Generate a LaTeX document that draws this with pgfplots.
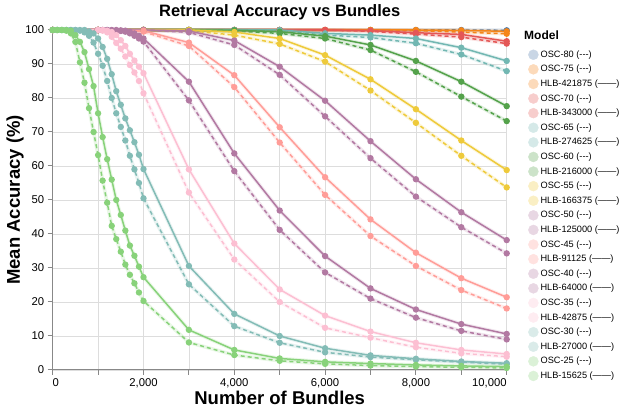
\documentclass[border=0pt]{standalone}
\usepackage{fontspec}
\setmainfont{Liberation Sans}
\usepackage{pgfplots}
\pgfplotsset{compat=1.18}
\definecolor{c80}{HTML}{4C78A8}
\definecolor{c75}{HTML}{F58518}
\definecolor{c70}{HTML}{E45756}
\definecolor{c65}{HTML}{72B7B2}
\definecolor{c60}{HTML}{54A24B}
\definecolor{c55}{HTML}{EECA3B}
\definecolor{c50}{HTML}{B279A2}
\definecolor{c45}{HTML}{FF9D98}
\definecolor{c40}{HTML}{B279A2}
\definecolor{c35}{HTML}{FCBFD2}
\definecolor{c30}{HTML}{83BCB6}
\definecolor{c25}{HTML}{88D27A}
\definecolor{axisgray}{HTML}{888888}
\definecolor{gridgray}{HTML}{DDDDDD}
\pgfplotsset{
  ser/.style={color=#1, line width=1.5pt, mark=*, mark size=2.4pt,
    mark options={solid, draw=none, fill=#1},
    preaction={draw=#1, line width=3.6pt, draw opacity=0.18, solid}, forget plot},
  osc/.style={ser=#1, dash pattern=on 4pt off 3pt},
  hlb/.style={ser=#1, solid},
  lc/.style={legend image code/.code={\fill[#1!30!white] (5pt,0pt) circle (5pt);}},
}
\begin{document}
\begin{tikzpicture}
\begin{axis}[
  at={(0pt,0pt)}, anchor=south west,
  width=454pt, height=340pt, scale only axis,
  xmin=0, xmax=10000, ymin=0, ymax=100,
  axis x line*=bottom, axis y line*=left,
  axis line style={-, draw=axisgray, line width=1pt},
  xtick={0,1000,...,10000},
  scaled x ticks=false,
  xticklabels={\rlap{0},,{2,000},,{4,000},,{6,000},,{8,000},,\llap{10,000}},
  ytick={0,10,...,100},
  grid=major, major grid style={draw=gridgray, line width=0.8pt},
  tick style={draw=axisgray, line width=1pt},
  tick align=outside, major tick length=5pt,
  ticklabel style={font=\fontsize{11.3}{13}\selectfont},
  /pgf/number format/assume math mode=true,
  clip=false,
  title={Retrieval Accuracy vs Bundles},
  title style={at={(axis description cs:0.5,1.0353)}, anchor=center, font=\fontsize{16.5}{19}\selectfont\bfseries},
  xlabel={Number of Bundles},
  xlabel style={at={(axis description cs:0.5,-0.0824)}, anchor=center, yshift=0pt, font=\fontsize{18.5}{21}\selectfont\bfseries},
  ylabel={Mean Accuracy (\%)},
  ylabel style={at={(axis description cs:-0.083,0.5)}, anchor=center, font=\fontsize{18.5}{21}\selectfont\bfseries},
  legend style={at={(axis description cs:1.0403,0.949)}, anchor=north west, draw=none, fill=none,
    font=\fontsize{9.2}{11}\selectfont, row sep=4.2pt,
    nodes={inner ysep=0pt, inner xsep=2pt, text height=7pt, text depth=2pt}},
  legend cell align=left,
]
% 80
\addplot[osc=c80] coordinates {(0,100)(1000,100)(2000,100)(3000,100)(4000,100)(5000,100)(6000,100)(7000,100)(8000,100)(9000,100)(10000,99.9)};
% 75
\addplot[osc=c75] coordinates {(0,100)(1000,100)(2000,100)(3000,100)(4000,100)(5000,100)(6000,100)(7000,100)(8000,99.8)(9000,99.4)(10000,98.9)};
\addplot[hlb=c75] coordinates {(0,100)(1000,100)(2000,100)(3000,100)(4000,100)(5000,100)(6000,100)(7000,100)(8000,100)(9000,99.9)(10000,99.6)};
% 70
\addplot[osc=c70] coordinates {(0,100)(1000,100)(2000,100)(3000,100)(4000,100)(5000,100)(6000,100)(7000,99.6)(8000,98.8)(9000,97.9)(10000,96.0)};
\addplot[hlb=c70] coordinates {(0,100)(1000,100)(2000,100)(3000,100)(4000,100)(5000,100)(6000,100)(7000,99.8)(8000,99.2)(9000,98.7)(10000,96.7)};
% 65
\addplot[osc=c65] coordinates {(0,100)(1000,100)(2000,100)(3000,100)(4000,100)(5000,99.7)(6000,98.5)(7000,97.8)(8000,96.1)(9000,92.8)(10000,87.9)};
\addplot[hlb=c65] coordinates {(0,100)(1000,100)(2000,100)(3000,100)(4000,100)(5000,100)(6000,99.0)(7000,98.5)(8000,97.5)(9000,94.8)(10000,90.9)};
% 60
\addplot[osc=c60] coordinates {(0,100)(1000,100)(2000,100)(3000,100)(4000,99.7)(5000,99.0)(6000,97.5)(7000,94.1)(8000,87.7)(9000,80.4)(10000,73.2)};
\addplot[hlb=c60] coordinates {(0,100)(1000,100)(2000,100)(3000,100)(4000,99.9)(5000,99.5)(6000,98.2)(7000,95.6)(8000,90.9)(9000,84.8)(10000,77.6)};
% 55
\addplot[osc=c55] coordinates {(0,100)(1000,100)(2000,100)(3000,99.8)(4000,98.5)(5000,95.9)(6000,90.7)(7000,82.2)(8000,72.7)(9000,63.0)(10000,53.7)};
\addplot[hlb=c55] coordinates {(0,100)(1000,100)(2000,100)(3000,100)(4000,99.4)(5000,97.5)(6000,92.6)(7000,85.5)(8000,76.7)(9000,67.5)(10000,58.8)};
% 50
\addplot[osc=c50] coordinates {(0,100)(1000,100)(2000,100)(3000,99.3)(4000,95.6)(5000,86.8)(6000,74.6)(7000,62.3)(8000,51.0)(9000,42.0)(10000,34.3)};
\addplot[hlb=c50] coordinates {(0,100)(1000,100)(2000,100)(3000,99.7)(4000,96.9)(5000,89.2)(6000,79.2)(7000,67.3)(8000,56.1)(9000,46.4)(10000,38.2)};
% 45
\addplot[osc=c45] coordinates {(0,100)(1000,100)(2000,99.5)(3000,95.3)(4000,83.2)(5000,66.9)(6000,51.5)(7000,39.4)(8000,30.6)(9000,23.5)(10000,18.1)};
\addplot[hlb=c45] coordinates {(0,100)(1000,100)(2000,99.8)(3000,96.3)(4000,86.7)(5000,71.4)(6000,56.7)(7000,44.3)(8000,34.5)(9000,27.0)(10000,21.4)};
% 40
\addplot[osc=c40] coordinates {(0,100)(1000,100)(1100,100)(1200,100)(1300,99.9)(1400,99.8)(1500,99.7)(1600,99.5)(1700,99.0)(1800,98.3)(1900,97.5)(2000,96.6)(3000,79.3)(4000,58.5)(5000,41.2)(6000,28.7)(7000,21.0)(8000,15.4)(9000,11.5)(10000,9.0)};
\addplot[hlb=c40] coordinates {(0,100)(1000,100)(1100,100)(1200,100)(1300,100)(1400,100)(1500,99.9)(1600,99.8)(1700,99.5)(1800,99.0)(1900,98.3)(2000,97.5)(3000,84.8)(4000,63.7)(5000,46.9)(6000,33.5)(7000,24.0)(8000,17.8)(9000,13.5)(10000,10.6)};
% 35
\addplot[osc=c35] coordinates {(0,100)(1000,100)(1100,99.8)(1200,99.3)(1300,98.0)(1400,96.2)(1500,94.5)(1600,92.2)(1700,89.7)(1800,87.5)(1900,85.0)(2000,81.4)(3000,52.2)(4000,32.5)(5000,20.0)(6000,12.4)(7000,9.5)(8000,6.7)(9000,4.9)(10000,3.9)};
\addplot[hlb=c35] coordinates {(0,100)(1000,100)(1100,100)(1200,99.8)(1300,99.4)(1400,98.5)(1500,97.0)(1600,95.3)(1700,93.0)(1800,91.0)(1900,89.2)(2000,87.3)(3000,59.0)(4000,37.2)(5000,23.7)(6000,16.0)(7000,11.3)(8000,8.0)(9000,5.9)(10000,4.7)};
% 30
\addplot[osc=c30] coordinates {(0,100)(100,100)(200,100)(300,100)(400,100)(500,100)(600,99.8)(700,99.3)(800,98.3)(900,96.3)(1000,93.0)(1100,89.5)(1200,85.0)(1300,80.0)(1400,75.5)(1500,71.5)(1600,67.5)(1700,63.0)(1800,59.0)(1900,55.0)(2000,50.5)(3000,25.2)(4000,12.9)(5000,8.0)(6000,5.2)(7000,3.8)(8000,3.0)(9000,2.3)(10000,1.7)};
\addplot[hlb=c30] coordinates {(0,100)(100,100)(200,100)(300,100)(400,100)(500,100)(600,100)(700,100)(800,99.6)(900,99.0)(1000,97.5)(1100,95.0)(1200,91.5)(1300,87.0)(1400,82.0)(1500,78.0)(1600,74.0)(1700,70.5)(1800,67.0)(1900,63.3)(2000,59.1)(3000,30.6)(4000,16.5)(5000,10.0)(6000,6.4)(7000,4.3)(8000,3.3)(9000,2.5)(10000,2.0)};
% 25
\addplot[osc=c25] coordinates {(0,100)(100,100)(200,100)(300,99.8)(400,99.0)(500,96.5)(600,90.5)(700,84.5)(800,77.0)(900,70.0)(1000,63.2)(1100,55.7)(1200,49.2)(1300,42.4)(1400,38.5)(1500,34.8)(1600,31.0)(1700,28.0)(1800,25.5)(1900,22.8)(2000,20.3)(3000,8.1)(4000,4.4)(5000,2.7)(6000,1.8)(7000,1.3)(8000,1.0)(9000,0.8)(10000,0.6)};
\addplot[hlb=c25] coordinates {(0,100)(100,100)(200,100)(300,100)(400,99.8)(500,98.5)(600,96.5)(700,93.5)(800,88.5)(900,83.5)(1000,75.5)(1100,68.5)(1200,62.0)(1300,56.0)(1400,50.0)(1500,45.6)(1600,41.0)(1700,36.6)(1800,33.6)(1900,30.4)(2000,27.3)(3000,11.8)(4000,5.9)(5000,3.4)(6000,2.4)(7000,1.9)(8000,1.5)(9000,1.2)(10000,1.0)};
% legend
\addlegendimage{lc=c80}\addlegendentry{OSC-80 (-{}-{}-)}
\addlegendimage{lc=c75}\addlegendentry{OSC-75 (-{}-{}-)}
\addlegendimage{lc=c75}\addlegendentry{HLB-421875 (——)}
\addlegendimage{lc=c70}\addlegendentry{OSC-70 (-{}-{}-)}
\addlegendimage{lc=c70}\addlegendentry{HLB-343000 (——)}
\addlegendimage{lc=c65}\addlegendentry{OSC-65 (-{}-{}-)}
\addlegendimage{lc=c65}\addlegendentry{HLB-274625 (——)}
\addlegendimage{lc=c60}\addlegendentry{OSC-60 (-{}-{}-)}
\addlegendimage{lc=c60}\addlegendentry{HLB-216000 (——)}
\addlegendimage{lc=c55}\addlegendentry{OSC-55 (-{}-{}-)}
\addlegendimage{lc=c55}\addlegendentry{HLB-166375 (——)}
\addlegendimage{lc=c50}\addlegendentry{OSC-50 (-{}-{}-)}
\addlegendimage{lc=c50}\addlegendentry{HLB-125000 (——)}
\addlegendimage{lc=c45}\addlegendentry{OSC-45 (-{}-{}-)}
\addlegendimage{lc=c45}\addlegendentry{HLB-91125 (——)}
\addlegendimage{lc=c40}\addlegendentry{OSC-40 (-{}-{}-)}
\addlegendimage{lc=c40}\addlegendentry{HLB-64000 (——)}
\addlegendimage{lc=c35}\addlegendentry{OSC-35 (-{}-{}-)}
\addlegendimage{lc=c35}\addlegendentry{HLB-42875 (——)}
\addlegendimage{lc=c30}\addlegendentry{OSC-30 (-{}-{}-)}
\addlegendimage{lc=c30}\addlegendentry{HLB-27000 (——)}
\addlegendimage{lc=c25}\addlegendentry{OSC-25 (-{}-{}-)}
\addlegendimage{lc=c25}\addlegendentry{HLB-15625 (——)}
\end{axis}
\node[anchor=west, font=\fontsize{12}{14}\selectfont\bfseries, inner sep=0pt] at (471.3pt,334.3pt) {Model};
\pgfresetboundingbox
\useasboundingbox (-52.7pt,-39pt) rectangle (568.3pt,370pt);
\end{tikzpicture}
\end{document}
